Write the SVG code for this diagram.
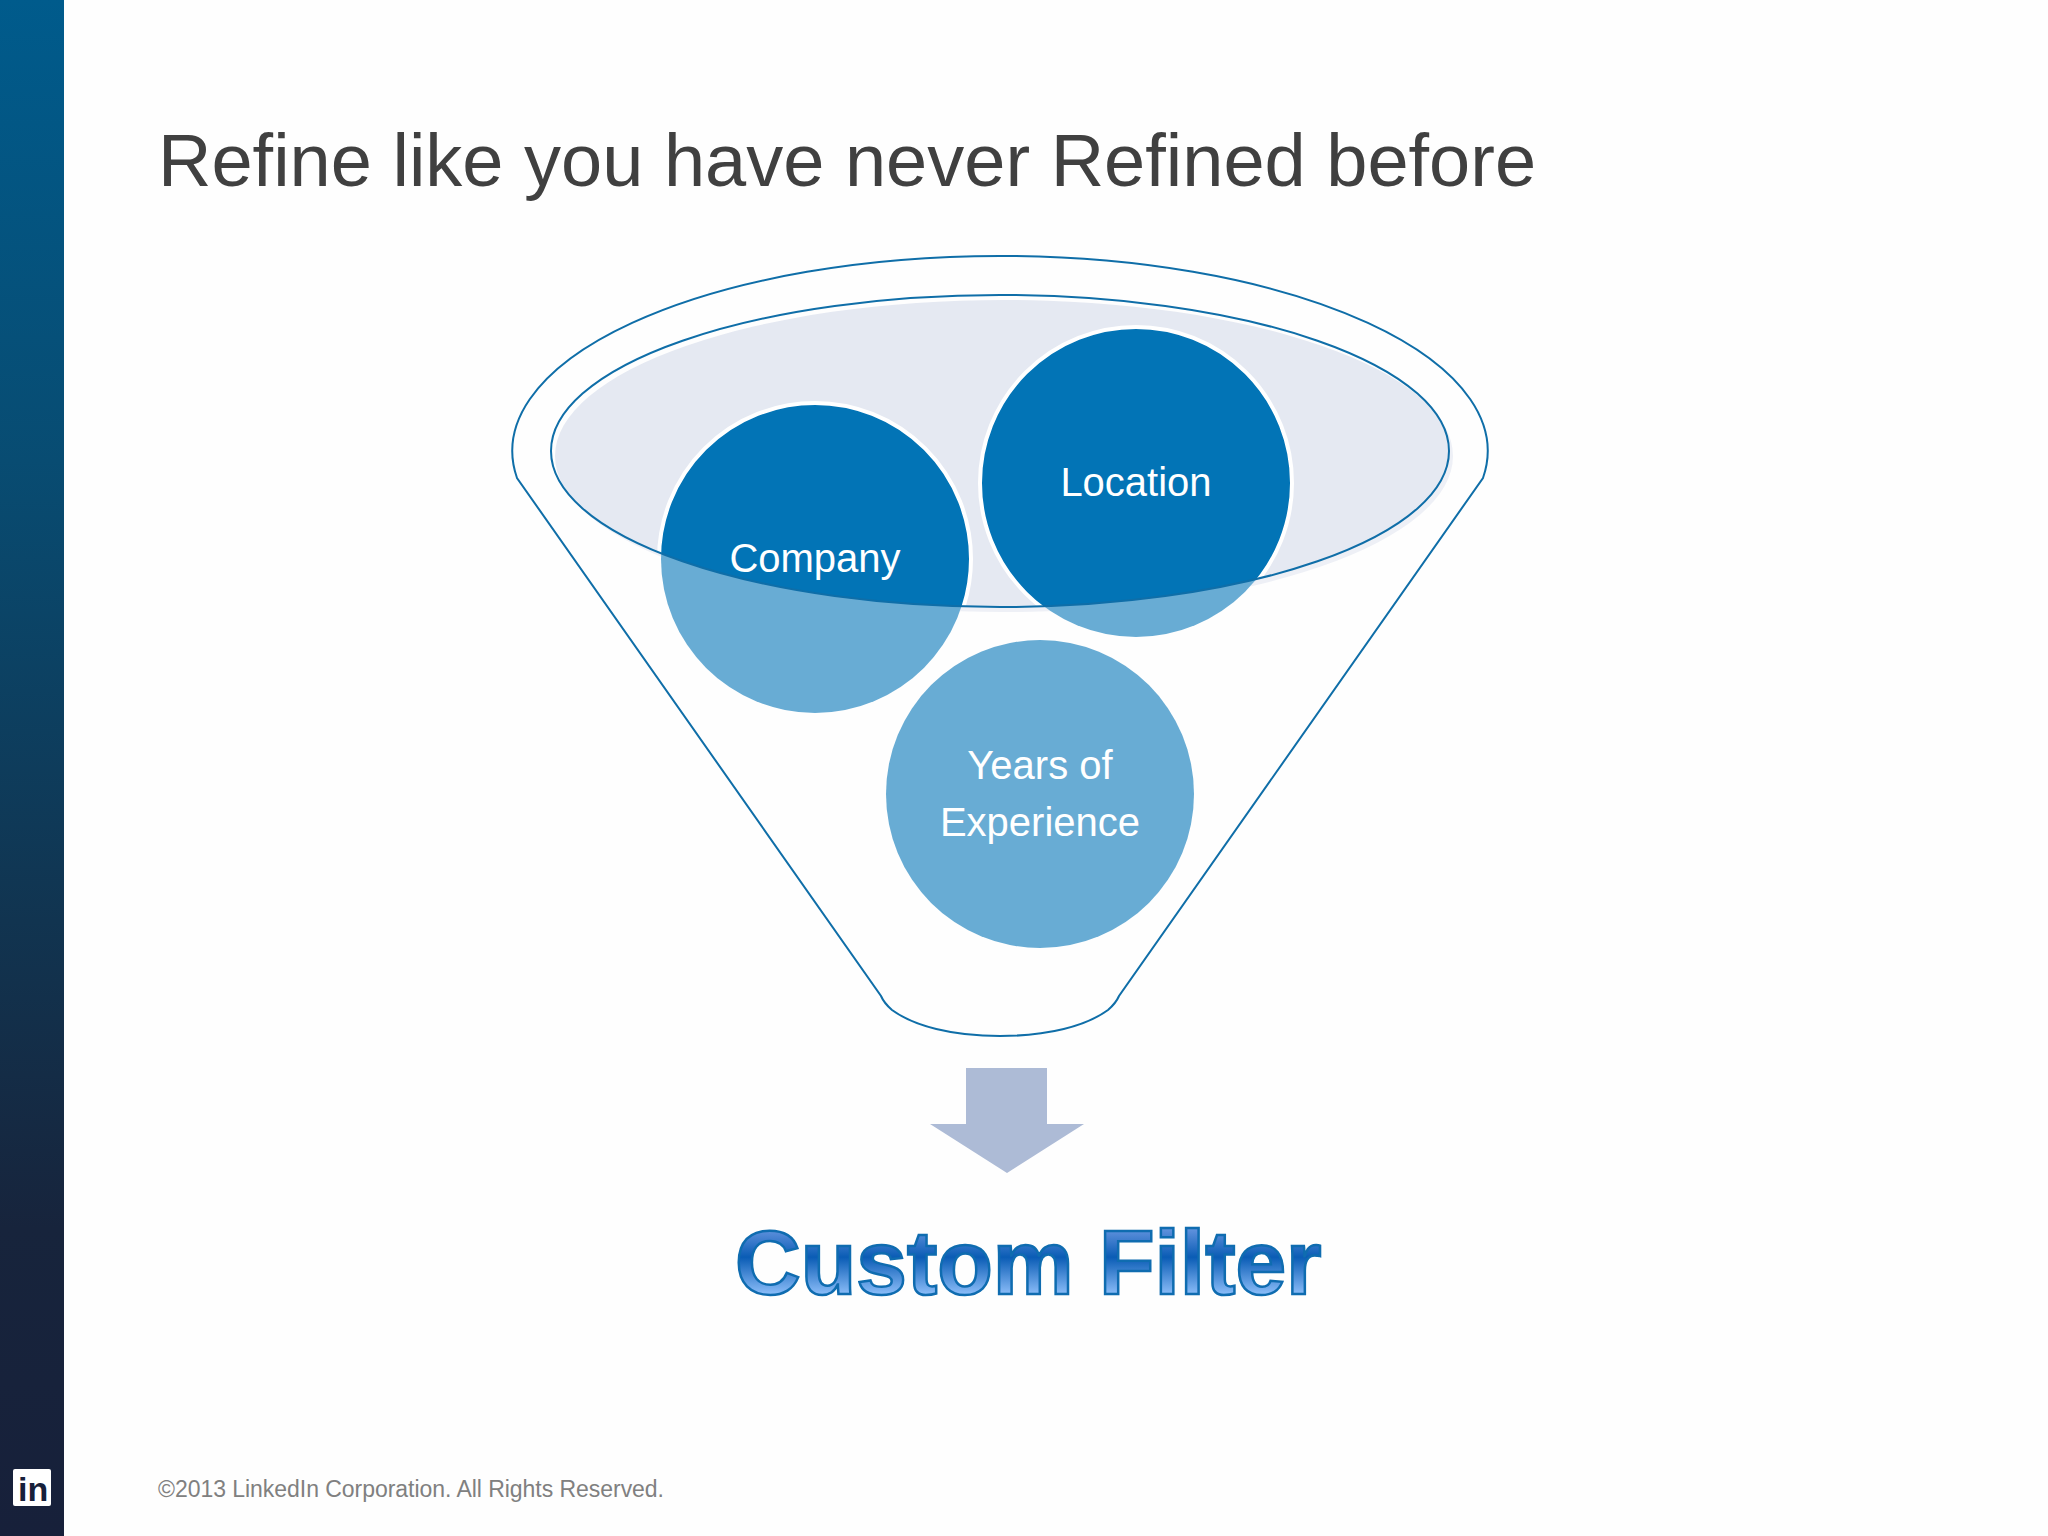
<svg xmlns="http://www.w3.org/2000/svg" width="2048" height="1536" viewBox="0 0 2048 1536">
<defs>
<linearGradient id="bar" x1="0" y1="0" x2="0" y2="1"><stop offset="0" stop-color="#005b8c"/><stop offset="0.3" stop-color="#084c72"/><stop offset="0.6" stop-color="#113450"/><stop offset="0.8" stop-color="#17243c"/><stop offset="1" stop-color="#17203a"/></linearGradient>
<linearGradient id="wa" gradientUnits="userSpaceOnUse" x1="0" y1="1227" x2="0" y2="1294"><stop offset="0" stop-color="#6796e0"/><stop offset="0.45" stop-color="#0a5cb5"/><stop offset="1" stop-color="#8abcf8"/></linearGradient>
<clipPath id="inner"><ellipse cx="1000" cy="451" rx="449" ry="156"/></clipPath>
</defs>
<style>
.s{font-family:"Liberation Sans",Arial,sans-serif}
.c{fill:#fff;font-size:40px;text-anchor:middle}
.ln{fill:none;stroke:#0f6ea8;stroke-width:2}
</style>
<rect width="2048" height="1536" fill="#fefefe"/>
<rect id="sidebar" width="64" height="1536" fill="url(#bar)"/>
<g id="logo"><rect x="13" y="1469" width="38" height="37" rx="2" fill="#fff"/><text class="s" x="18" y="1500.500" font-size="34" font-weight="700" fill="#17203a">in</text></g>
<text id="title" class="s" x="158" y="186" font-size="74" fill="#404040">Refine like you have never Refined before</text>
<g id="funnel">
<path class="ln" d="M517 478 A487 195 0 0 1 1000 256 A487 195 0 0 1 1483 478 L1119 996 Q1116 1003 1108 1010 C1086 1026 1048 1036 1000 1036 C952 1036 914 1026 892 1010 Q884 1003 881 996 Z" fill="#fefefe"/>
<ellipse cx="1004" cy="456" rx="449" ry="156" fill="#eef0f6"/>
<ellipse cx="1000" cy="451" rx="449" ry="156" fill="#fefefe"/>
<g clip-path="url(#inner)"><ellipse cx="1004" cy="456" rx="449" ry="156" fill="#e5e9f2"/></g>
</g>
<g id="company"><circle cx="815" cy="559" r="154" fill="#68acd4"/><g clip-path="url(#inner)"><circle cx="815" cy="559" r="156" fill="#0274b6" stroke="#fff" stroke-width="4"/></g><text class="s c" x="815" y="572">Company</text></g>
<g id="location"><circle cx="1136" cy="483" r="154" fill="#68acd4"/><g clip-path="url(#inner)"><circle cx="1136" cy="483" r="156" fill="#0274b6" stroke="#fff" stroke-width="4"/></g><text class="s c" x="1136" y="496">Location</text></g>
<ellipse cx="1000" cy="451" rx="449" ry="156" class="ln"/>
<g id="years"><circle cx="1040" cy="794" r="154" fill="#68acd4"/><text class="s c" x="1040" y="779">Years of</text><text class="s c" x="1040" y="836">Experience</text></g>
<g id="connectors"><polygon id="arrow" points="966,1068 1047,1068 1047,1124 1084,1124 1007,1173 930,1124 966,1124" fill="#adbbd6"/></g>
<text id="custom" class="s" x="735" y="1294" font-size="91" font-weight="700" fill="url(#wa)" stroke="#0f6cb0" stroke-width="2.500">Custom Filter</text>
<text id="footer" class="s" x="158" y="1497" font-size="23" fill="#808080" textLength="506">©2013 LinkedIn Corporation. All Rights Reserved.</text>
</svg>
